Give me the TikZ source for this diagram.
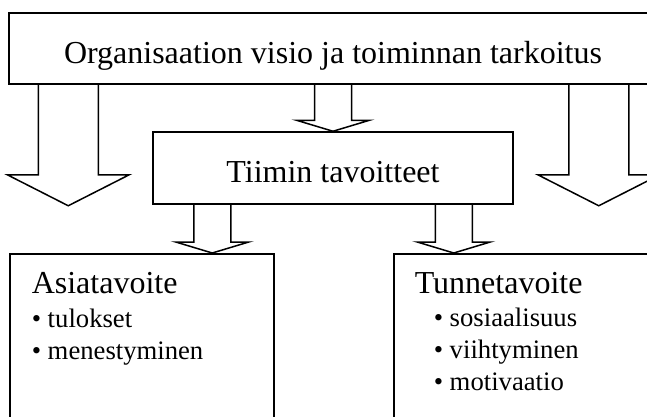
\documentclass[tikz,border=0pt]{standalone}
\usepackage{fontspec}
\setmainfont{Liberation Serif}
\usetikzlibrary{calc}
\tikzset{>=latex}
\tikzset{hollow/.style n args={3}{to path={let \p1=(\tikztostart), \p2=(\tikztotarget) in
  (\x2-#1,\y1) -- (\x2-#1,\y2+#3) -- (\x2-#2,\y2+#3) -- (\x2,\y2)
  -- (\x2+#2,\y2+#3) -- (\x2+#1,\y2+#3) -- (\x2+#1,\y1)}}}

\begin{document}
\begin{tikzpicture}[x=1pt,y=-1pt,line width=1.5pt]
    \tikzstyle{box}=[draw,rectangle,inner sep=0pt];
    \tikzstyle{head}=[font=\fontsize{32}{38}\selectfont,text height=29pt,text depth=0pt];
    \tikzstyle{item}=[font=\fontsize{26.67}{32}\selectfont,anchor=base west,inner sep=0pt];
    \useasboundingbox (0,0) rectangle (647,416);
    \clip (0,0) rectangle (647,416);
    % boxes
    \node[box,head,minimum width=648pt,minimum height=71pt] (visio) at (333,48.5) {Organisaation visio ja toiminnan tarkoitus};
    \node[box,head,minimum width=360pt,minimum height=72pt] (tiimi) at (333,168) {Tiimin tavoitteet};
    \node[box,anchor=north west,minimum width=264pt,minimum height=180pt] (asia) at (9,253) {};
    \node[box,anchor=north west,minimum width=270pt,minimum height=180pt] (tunne) at (393,253) {};
    % texts in the lower boxes
    \node[item,font=\fontsize{32}{38}\selectfont] (asiah) at ($(asia.north west)+(22,40)$) {Asiatavoite};
    \foreach \t [count=\i] in {tulokset,menestyminen}
      \node[item] (asia\i) at ($(asia.north west)+(22,42+32*\i)$) {• \t};
    \node[item,font=\fontsize{32}{38}\selectfont] (tunneh) at ($(tunne.north west)+(21,40)$) {Tunnetavoite};
    \foreach \t [count=\i] in {sosiaalisuus,viihtyminen,motivaatio}
      \node[item] (tunne\i) at ($(tunne.north west)+(40,41+32*\i)$) {• \t};
    % arrows
    \coordinate (tipL) at ($(visio.south west)+(60,121)$);
    \coordinate (tipR) at ($(visio.south east)+(-59,121)$);
    \coordinate (a1) at ($(tiimi.south west)+(60,0)$);
    \coordinate (a2) at ($(tiimi.south east)+(-60,0)$);
    \draw[hollow={30pt}{61pt}{31pt}] (visio.south -| tipL) to (tipL);
    \draw[hollow={30pt}{61pt}{31pt}] (visio.south -| tipR) to (tipR);
    \draw[hollow={18.5pt}{36.5pt}{11pt}] (visio.south -| tiimi.north) to (tiimi.north);
    \draw[hollow={18.5pt}{36.5pt}{11pt}] (a1) to (a1 |- asia.north);
    \draw[hollow={18.5pt}{36.5pt}{11pt}] (a2) to (a2 |- tunne.north);
  \end{tikzpicture}
\end{document}
